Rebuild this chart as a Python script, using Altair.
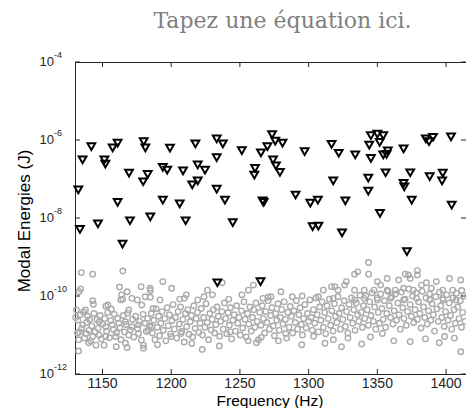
import altair as alt
import pandas as pd

title_text = "Tapez une équation ici."
x_title = "Frequency (Hz)"
y_title = "Modal Energies (J)"

# triangles (black, open, pointing down): frequency (Hz) and log10 of modal energy (J)
tri_freq = [1135.5, 1141.9, 1151.4, 1152.1, 1157.4, 1161.0, 1180.0, 1181.2, 1199.1, 1217.6,
            1233.1, 1237.6, 1251.4, 1265.3, 1270.0, 1273.4, 1274.1, 1169.3, 1182.9, 1179.6,
            1193.9, 1197.1, 1208.6, 1219.3, 1224.6, 1219.3, 1215.3, 1233.1, 1233.1, 1132.4,
            1161.0, 1193.9, 1206.2, 1239.1, 1266.5, 1267.3, 1261.0, 1260.5,
            1133.6, 1146.7, 1170.0, 1184.8, 1210.5, 1244.8, 1164.6, 1233.6, 1265.0,
            1275.7, 1281.0, 1297.1, 1316.7, 1321.9, 1333.9, 1345.3, 1350.0, 1354.3, 1344.1,
            1351.7, 1345.3, 1354.3, 1357.6, 1356.7, 1369.1, 1385.3, 1387.6, 1390.5, 1403.6,
            1276.2, 1279.1, 1317.9, 1343.4, 1343.4, 1356.0, 1369.1, 1369.6, 1373.9, 1388.1,
            1397.6, 1397.1, 1290.5, 1301.2, 1306.7, 1326.7, 1375.0, 1404.1, 1351.9,
            1302.9, 1307.1, 1324.3, 1371.5]
tri_logE = [-6.51, -6.17, -6.51, -6.62, -6.20, -6.08, -6.04, -6.20, -6.21, -6.10,
            -5.97, -6.10, -6.27, -6.33, -6.17, -5.86, -6.51, -6.85, -6.88, -7.07,
            -6.70, -6.77, -6.79, -6.64, -6.77, -7.05, -7.15, -6.45, -7.26, -7.28,
            -7.60, -7.54, -7.64, -7.54, -7.56, -7.60, -6.73, -6.90,
            -8.29, -8.15, -8.07, -7.97, -8.07, -8.12, -8.67, -9.66, -9.63,
            -6.03, -6.08, -6.30, -6.11, -6.34, -6.38, -5.89, -5.85, -5.89, -6.13,
            -6.06, -6.47, -6.38, -6.28, -6.37, -6.23, -5.97, -6.04, -5.93, -5.92,
            -6.66, -6.83, -7.05, -6.98, -7.31, -6.84, -7.11, -7.20, -6.84, -6.94,
            -6.85, -7.05, -7.41, -7.62, -7.54, -7.56, -7.54, -7.67, -7.88,
            -8.22, -8.21, -8.38, -8.86]

# circles (grey, open): 1130-1185 Hz
circ_freq_a = [1134.6, 1142.9, 1164.8, 1134.1, 1132.9, 1142.9, 1143.4, 1131.0, 1137.6, 1152.4,
               1156.4, 1162.4, 1163.9, 1164.8, 1167.9, 1171.4, 1178.1, 1184.6, 1181.0, 1186.9,
               1178.6, 1169.1, 1132.1, 1135.7, 1140.5, 1147.6, 1152.4, 1157.1, 1161.9, 1166.7,
               1171.4, 1176.2, 1181.0, 1185.7, 1133.4, 1138.1, 1142.9, 1147.6, 1152.4, 1159.6,
               1169.1, 1176.2, 1183.4, 1145.3, 1151.2, 1166.7, 1167.9, 1179.8, 1179.8, 1132.6,
               1130.5, 1131.8, 1132.7, 1133.9, 1134.8, 1136.2, 1136.9, 1138.5, 1139.2, 1140.1,
               1141.4, 1142.2, 1143.8, 1144.6, 1145.9, 1146.8, 1148.3, 1149.1, 1150.2, 1151.6,
               1153.0, 1153.8, 1155.1, 1156.0, 1157.9, 1158.6, 1160.2, 1161.0, 1162.7, 1163.5,
               1165.1, 1166.0, 1167.2, 1168.4, 1170.3, 1171.9, 1172.8, 1174.1, 1175.6, 1177.0,
               1178.3, 1179.5, 1181.9, 1182.8, 1184.2, 1160.0, 1140.0]
circ_logE_a = [-9.40, -9.44, -9.36, -9.82, -9.89, -10.12, -10.21, -10.36, -10.36, -10.26,
               -10.34, -9.77, -9.97, -10.08, -9.89, -10.06, -9.76, -9.80, -10.02, -10.32,
               -10.23, -10.36, -10.62, -10.74, -10.60, -10.66, -10.79, -10.74, -10.70, -10.66,
               -10.79, -10.74, -10.70, -10.79, -10.92, -10.96, -11.04, -11.00, -11.04, -11.04,
               -11.00, -10.96, -10.87, -11.26, -11.26, -11.21, -11.32, -11.26, -11.34, -11.41,
               -10.55, -10.95, -11.12, -10.48, -10.83, -10.41, -11.08, -10.68, -10.52, -10.88,
               -11.15, -10.77, -10.45, -10.92, -10.61, -10.83, -10.50, -11.10, -10.72, -10.58,
               -10.90, -10.42, -11.07, -10.63, -10.86, -10.47, -10.95, -10.57, -10.81, -11.12,
               -10.50, -10.92, -10.73, -10.44, -10.87, -10.60, -11.05, -10.52, -10.84, -10.65,
               -11.13, -10.47, -10.91, -10.58, -10.77, -11.30, -11.20]

# circles: 1185-1300 Hz
circ_freq_b = [1184.8, 1193.9, 1200.3, 1211.0, 1206.2, 1226.4, 1237.1, 1230.0, 1241.9, 1251.4,
               1256.2, 1259.8, 1270.5, 1175.3, 1163.4, 1153.9, 1219.3, 1191.9, 1184.8, 1209.6,
               1223.9, 1266.7, 1279.8, 1272.6, 1288.1, 1295.3,
               1222.6, 1256.0, 1265.5, 1283.4, 1200.0, 1207.1, 1242.9,
               1185.5, 1186.3, 1187.4, 1188.2, 1189.0, 1189.9, 1190.8, 1191.6, 1192.5, 1193.4,
               1194.2, 1195.3, 1196.1, 1197.0, 1197.8, 1198.7, 1199.5, 1200.6, 1201.4, 1202.3,
               1203.1, 1204.0, 1205.0, 1205.9, 1206.8, 1207.6, 1208.5, 1209.4, 1210.3, 1211.2,
               1212.1, 1213.0, 1213.8, 1214.7, 1215.6, 1216.5, 1217.4, 1218.2, 1219.1, 1220.0,
               1221.0, 1221.9, 1222.8, 1223.6, 1224.5, 1225.4, 1226.3, 1227.2, 1228.1, 1229.0,
               1229.8, 1230.7, 1231.6, 1232.5, 1233.4, 1234.3, 1235.2, 1236.0, 1236.9, 1237.8,
               1238.7, 1239.6, 1240.5, 1241.4, 1242.3, 1243.1, 1244.0, 1244.9, 1245.8, 1246.7,
               1247.6, 1248.4, 1249.3, 1250.2,
               1251.1, 1252.0, 1252.9, 1253.8, 1254.6, 1255.5, 1256.4, 1257.3, 1258.2, 1259.1,
               1260.0, 1260.9, 1261.7, 1262.6, 1263.5, 1264.4, 1265.3, 1266.2, 1267.1, 1268.0,
               1268.8, 1269.7, 1270.6, 1271.5, 1272.4, 1273.3, 1274.2, 1275.1, 1276.0, 1276.8,
               1277.7, 1278.6, 1279.5, 1280.4, 1281.3, 1282.2, 1283.1, 1284.0, 1284.9, 1285.8,
               1286.6, 1287.5, 1288.4, 1289.3, 1290.2, 1291.1, 1292.0, 1292.9, 1293.8, 1294.7,
               1295.5, 1296.4, 1297.3, 1298.2, 1299.1, 1300.0,
               1190.0, 1215.0, 1235.0, 1262.0, 1278.0, 1295.0]
circ_logE_b = [-9.86, -9.63, -9.80, -9.97, -10.08, -9.85, -9.66, -9.97, -10.08, -9.97,
               -9.85, -9.72, -10.03, -10.10, -10.10, -10.23, -10.10, -10.10, -10.03, -10.06,
               -10.02, -10.06, -9.89, -10.02, -10.02, -10.00,
               -11.37, -11.15, -11.06, -10.96, -11.04, -10.96, -10.92,
               -10.45, -10.95, -10.62, -11.12, -10.33, -10.80, -10.52, -11.02, -10.70, -10.40,
               -10.88, -10.58, -11.15, -10.30, -10.76, -10.48, -10.97, -10.63, -10.22, -10.85,
               -10.55, -11.08, -10.40, -10.72, -10.28, -10.91, -10.60, -11.18, -10.45, -10.79,
               -10.35, -10.98, -10.66, -10.50, -11.05, -10.25, -10.83, -10.58, -10.42, -10.93,
               -10.70, -10.32, -11.00, -10.55, -10.80, -10.20, -10.68, -11.12, -10.45, -10.87,
               -10.60, -10.35, -10.95, -10.73, -10.28, -10.52, -11.03, -10.65, -10.40, -10.85,
               -10.18, -10.58, -10.97, -10.43, -10.75, -10.30, -11.10, -10.62, -10.48, -10.90,
               -10.25, -10.70, -10.55, -11.00,
               -10.38, -10.82, -10.15, -10.60, -11.05, -10.45, -10.72, -10.28, -10.90, -10.55,
               -10.35, -10.80, -10.18, -10.65, -11.12, -10.42, -10.75, -10.25, -10.58, -10.95,
               -10.40, -10.68, -10.12, -10.85, -10.50, -10.30, -10.77, -11.02, -10.45, -10.62,
               -10.20, -10.88, -10.55, -10.35, -10.72, -10.15, -10.60, -11.08, -10.42, -10.80,
               -10.27, -10.52, -10.95, -10.38, -10.68, -10.12, -10.85, -10.48, -10.30, -10.73,
               -11.00, -10.58, -10.22, -10.82, -10.45, -10.65,
               -11.25, -11.22, -11.28, -11.20, -11.15, -11.25]

# circles: 1300-1415 Hz
circ_freq_c = [1343.6, 1343.6, 1335.7, 1333.4, 1350.0, 1357.1, 1365.5, 1370.3, 1373.9, 1379.1,
               1379.1, 1385.7, 1392.9, 1402.4, 1410.7, 1411.4, 1404.8, 1397.6, 1389.3, 1382.1,
               1376.2, 1369.1, 1363.1, 1357.1, 1352.4, 1347.6, 1340.5, 1333.4, 1327.4, 1326.2,
               1321.4, 1316.7, 1310.7, 1307.1, 1317.9, 1333.4,
               1340.5, 1350.0, 1359.6, 1369.1, 1378.6, 1388.1, 1397.6, 1407.1, 1372.6, 1319.1,
               1303.6, 1311.9, 1323.9, 1328.6, 1338.6, 1353.6, 1373.9, 1398.9, 1406.0, 1410.7,
               1300.9, 1301.8, 1302.7, 1303.5, 1304.4, 1305.3, 1306.2, 1307.1, 1308.0, 1308.9,
               1309.8, 1310.7, 1311.6, 1312.4, 1313.3, 1314.2, 1315.1, 1316.0, 1316.9, 1317.8,
               1318.7, 1319.6, 1320.5, 1321.3, 1322.2, 1323.1, 1324.0, 1324.9, 1325.8, 1326.7,
               1327.6, 1328.5, 1329.4, 1330.2, 1331.1, 1332.0, 1332.9, 1333.8, 1334.7, 1335.6,
               1336.5, 1337.4, 1338.3, 1339.1, 1339.9,
               1340.8, 1341.7, 1342.6, 1343.5, 1344.4, 1345.3, 1346.2, 1347.1, 1348.0, 1348.9,
               1349.8, 1350.7, 1351.5, 1352.4, 1353.3, 1354.2, 1355.1, 1356.0, 1356.9, 1357.8,
               1358.7, 1359.6, 1360.4, 1361.3, 1362.2, 1363.1, 1364.0, 1364.9, 1365.8, 1366.7,
               1367.6, 1368.5, 1369.4, 1370.2, 1371.1, 1372.0, 1372.9, 1373.8, 1374.7, 1375.6,
               1376.5, 1377.4, 1378.3, 1379.1, 1380.0, 1380.9, 1381.8, 1382.7, 1383.6, 1384.5,
               1385.4, 1386.3, 1387.2, 1388.0, 1388.9, 1389.8, 1390.7, 1391.6, 1392.5, 1393.4,
               1394.3, 1395.2, 1396.1, 1396.9, 1397.8, 1398.7, 1399.6, 1400.5, 1401.4, 1402.3,
               1403.2, 1404.1, 1405.0, 1405.8, 1406.7, 1407.6, 1408.5, 1409.4, 1410.3, 1411.2,
               1412.1, 1413.0, 1413.8,
               1318.0, 1345.0, 1362.0, 1385.0, 1395.0]
circ_logE_c = [-9.14, -9.44, -9.38, -9.44, -9.63, -9.55, -9.59, -9.44, -9.55, -9.35,
               -9.46, -9.66, -9.63, -9.55, -9.59, -9.86, -9.85, -9.85, -9.80, -9.72,
               -9.85, -9.80, -9.85, -9.85, -9.72, -9.85, -9.85, -9.85, -9.63, -9.72,
               -9.85, -9.76, -9.85, -10.02, -10.06, -10.10,
               -10.06, -10.10, -10.06, -10.10, -10.06, -10.10, -10.06, -10.10, -9.46, -9.76,
               -11.03, -11.21, -11.30, -11.08, -11.23, -10.96, -11.17, -11.04, -11.08, -11.43,
               -10.10, -10.55, -10.88, -10.35, -10.70, -10.05, -10.48, -10.92, -10.28, -10.62,
               -10.15, -10.80, -10.42, -10.97, -10.25, -10.58, -10.08, -10.75, -10.38, -10.90,
               -10.20, -10.52, -10.68, -10.02, -10.45, -10.85, -10.30, -10.60, -10.12, -10.78,
               -10.40, -10.95, -10.22, -10.55, -10.05, -10.70, -10.35, -10.88, -10.18, -10.48,
               -10.65, -9.98, -10.42, -10.80, -10.25,
               -10.58, -10.00, -10.35, -10.75, -10.15, -10.50, -9.92, -10.65, -10.28, -10.85,
               -10.05, -10.42, -10.70, -9.95, -10.32, -10.60, -10.12, -10.80, -10.45, -9.88,
               -10.25, -10.55, -10.02, -10.72, -10.38, -9.95, -10.62, -10.18, -10.48, -10.85,
               -9.90, -10.30, -10.58, -10.08, -10.75, -10.40, -9.82, -10.22, -10.52, -10.00,
               -10.68, -10.35, -9.92, -10.60, -10.15, -10.45, -10.82, -9.88, -10.28, -10.55,
               -10.05, -10.72, -10.38, -9.95, -10.62, -10.20, -10.48, -10.90, -10.02, -10.33,
               -10.65, -9.90, -10.25, -10.55, -10.10, -10.78, -10.40, -9.97, -10.62, -10.18,
               -10.50, -10.85, -10.05, -10.35, -10.70, -9.93, -10.28, -10.58, -10.12, -10.80,
               -10.42, -10.00, -10.65,
               -11.12, -11.05, -11.15, -11.10, -11.20]

x_ticks = [1150, 1200, 1250, 1300, 1350, 1400]
y_tick_exps = [-12, -10, -8, -6, -4]

W, H = 391, 312
xs = alt.Scale(domain=[1130, 1414.5], nice=False, zero=False)
ys = alt.Scale(type="log", domain=[1e-12, 1e-4], nice=False)

circ_freq = circ_freq_a + circ_freq_b + circ_freq_c
circ_logE = circ_logE_a + circ_logE_b + circ_logE_c

tri = pd.DataFrame({"f": tri_freq, "E": [10.0 ** v for v in tri_logE]})
circ = pd.DataFrame({"f": circ_freq, "E": [10.0 ** v for v in circ_logE]})
xt = pd.DataFrame({"f": x_ticks, "lab": [str(v) for v in x_ticks]})
yt = pd.DataFrame({"E": [10.0 ** e for e in y_tick_exps],
                   "base": ["10"] * len(y_tick_exps),
                   "exp": [f"{e}" for e in y_tick_exps]})
tt = pd.DataFrame({"t": [title_text], "xt": [x_title], "yt": [y_title]})

FONT = "Liberation Sans"
DARK = "#262626"

X = lambda: alt.X("f:Q", scale=xs, axis=None)
Y = lambda: alt.Y("E:Q", scale=ys, axis=None)

circles = alt.Chart(circ).mark_point(shape="circle", filled=False, size=30, strokeWidth=1.4,
                                     color="#ababab", opacity=1).encode(x=X(), y=Y())
triangles = alt.Chart(tri).mark_point(shape="triangle-down", filled=False, size=60, strokeWidth=2,
                                      color="#000000", opacity=1).encode(x=X(), y=Y())

tick_style = dict(color=DARK, strokeWidth=1)
xt_bot = alt.Chart(xt).mark_rule(**tick_style).encode(x=X(), y=alt.value(H), y2=alt.value(H - 5))
xt_top = alt.Chart(xt).mark_rule(**tick_style).encode(x=X(), y=alt.value(0), y2=alt.value(5))
yt_left = alt.Chart(yt).mark_rule(**tick_style).encode(y=Y(), x=alt.value(0), x2=alt.value(5))
yt_right = alt.Chart(yt).mark_rule(**tick_style).encode(y=Y(), x=alt.value(W - 5), x2=alt.value(W))

xlab = alt.Chart(xt).mark_text(align="center", baseline="alphabetic", font=FONT, fontSize=14,
                               color=DARK).encode(x=X(), y=alt.value(H + 14), text="lab:N")
ylab_base = alt.Chart(yt).mark_text(align="right", baseline="middle", font=FONT, fontSize=13,
                                    color=DARK).encode(y=Y(), x=alt.value(-21), text="base:N")
ylab_exp = alt.Chart(yt).mark_text(align="left", baseline="middle", font=FONT, fontSize=9,
                                   color=DARK, dy=-7.5).encode(y=Y(), x=alt.value(-21), text="exp:N")

xtitle = alt.Chart(tt).mark_text(align="center", baseline="alphabetic", font=FONT, fontSize=15.5,
                                 color="#000000").encode(
    x=alt.value(195), y=alt.value(H + 31.5), text="xt:N")
ytitle = alt.Chart(tt).mark_text(align="center", baseline="alphabetic", font=FONT, fontSize=17,
                                 color="#000000", angle=270).encode(
    x=alt.value(-45), y=alt.value(159), text="yt:N")
title = alt.Chart(tt).mark_text(align="center", baseline="alphabetic", font="DejaVu Serif",
                                fontSize=22, color="#7f7f7f").encode(
    x=alt.value(207.5), y=alt.value(-34.5), text="t:N")

chart = alt.layer(circles, triangles, xt_bot, xt_top, yt_left, yt_right,
                  xlab, ylab_base, ylab_exp, xtitle, ytitle, title).properties(
    width=W, height=H, autosize="none",
    padding={"left": 67, "top": 54, "right": 0, "bottom": 34},
).configure(background="white").configure_view(stroke=DARK, strokeWidth=1)

chart.save("out.html", embed_options={"renderer": "svg", "actions": False})
